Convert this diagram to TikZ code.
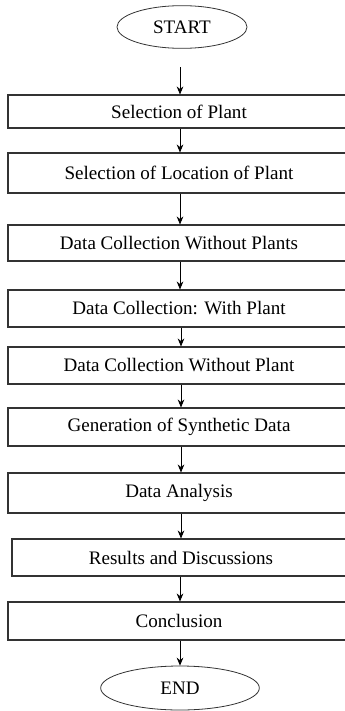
\documentclass[tikz,border=0pt]{standalone}
\usepackage{fontspec}
\setmainfont{Liberation Serif}
\usetikzlibrary{shapes.geometric, arrows.meta}

\begin{document}
\begin{tikzpicture}[x=0.75pt, y=-0.75pt, every node/.style={font=\fontsize{14.3}{16}\selectfont}]
    % Styles
    \tikzstyle{stage} = [rectangle, draw=black!80, thick, minimum width=256.5pt, inner sep=0pt, align=center]
    \tikzstyle{terminal} = [ellipse, draw=black!80, semithick, inner sep=0pt]
    \tikzstyle{arrow} = [-{Stealth[length=6pt, width=5pt]}, semithick]
    \useasboundingbox (0,0) rectangle (345,711);

    % Nodes
    \node[terminal, minimum width=97.5pt, minimum height=32pt] (Start) at (182, 27) {START};
    \node[stage, minimum height=24.75pt] (S1) at (179, 111.5) {Selection of Plant};
    \node[stage, minimum height=30pt] (S2) at (179, 173) {Selection of Location of Plant};
    \node[stage, minimum height=27pt] (S3) at (179, 243) {Data Collection Without Plants};
    \node[stage, minimum height=27.75pt] (S4) at (179, 308.5) {Data Collection: With Plant};
    \node[stage, minimum height=27.75pt] (S5) at (179, 365.5) {Data Collection Without Plant};
    \node[stage, minimum height=28.5pt] (S6) at (179, 427) {Generation of Synthetic Data};
    \node[stage, minimum height=30pt] (S7) at (179, 493) {Data Analysis};
    \node[stage, minimum height=27.75pt, minimum width=253.5pt] (S8) at (181, 557.5) {Results and Discussions};
    \node[stage, minimum height=28.5pt] (S9) at (179, 621) {Conclusion};
    \node[terminal, minimum width=119pt, minimum height=33pt] (End) at (180, 688) {END};

    % Arrows
    \draw[arrow, shorten <=14pt] (Start.south -| 180,0) -- (S1.north -| 180,0);
    \draw[arrow] (S1.south -| 180,0) -- (S2.north -| 180,0);
    \draw[arrow] (S2.south -| 180,0) -- (S3.north -| 180,0);
    \draw[arrow] (S3.south -| 180,0) -- (S4.north -| 180,0);
    \draw[arrow] (S4.south -| 181,0) -- (S5.north -| 181,0);
    \draw[arrow] (S5.south -| 181,0) -- (S6.north -| 181,0);
    \draw[arrow] (S6.south -| 181,0) -- (S7.north -| 181,0);
    \draw[arrow] (S7.south -| 181,0) -- (S8.north -| 181,0);
    \draw[arrow] (S8.south -| 180,0) -- (S9.north -| 180,0);
    \draw[arrow] (S9.south -| 180,0) -- (End);
\end{tikzpicture}
\end{document}
